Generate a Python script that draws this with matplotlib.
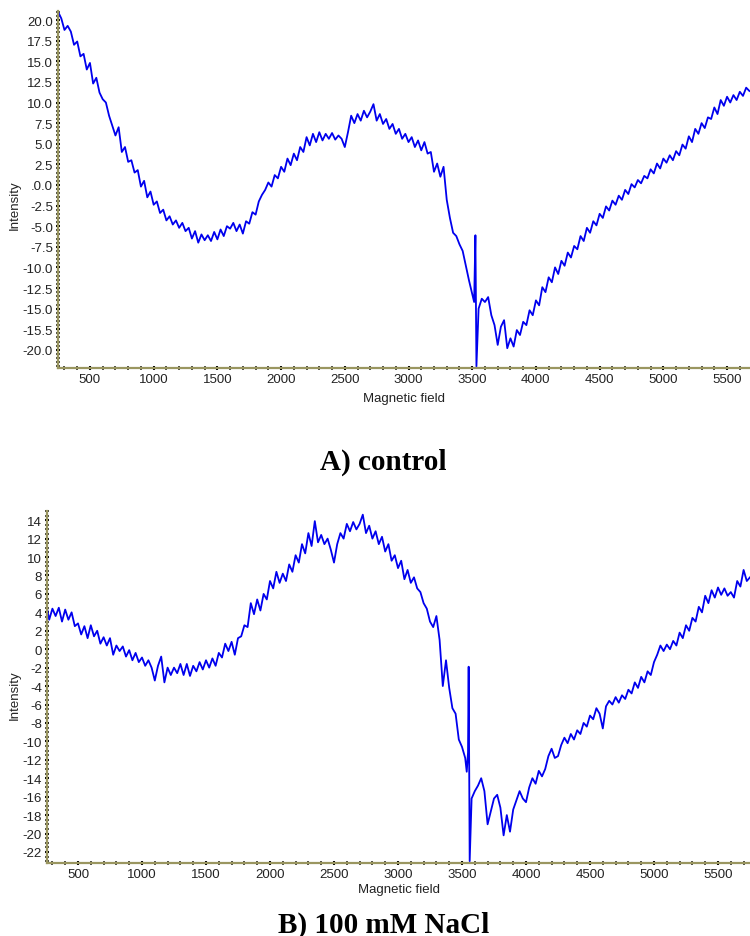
import numpy as np
import matplotlib
matplotlib.use("Agg")
import matplotlib.pyplot as plt
from matplotlib.ticker import MultipleLocator

# ---- A) control: intensity, 25 G steps ----
ctrl_start = 250
ctrl_before = [
    21.0, 20.2, 18.8, 19.3, 18.6, 17.0, 17.4, 15.6, 15.9, 14.0,
    14.8, 12.3, 13.0, 11.2, 10.4, 10.0, 8.4, 7.2, 6.0, 7.0,
    4.0, 4.6, 2.8, 3.0, 1.5, 1.8, -0.2, 0.5, -1.5, -0.8,
    -2.4, -2.0, -3.4, -3.0, -4.3, -3.8, -4.8, -4.3, -5.2, -4.6,
    -5.6, -5.2, -6.5, -5.6, -7.0, -6.0, -6.7, -6.1, -6.8, -5.7,
    -6.6, -5.4, -6.2, -5.0, -5.3, -4.6, -5.6, -4.8, -5.9, -4.4,
    -4.7, -3.3, -3.6, -2.0, -1.2, -0.6, 0.3, -0.2, 1.2, 0.8,
    2.2, 1.6, 3.2, 2.4, 3.8, 3.0, 4.6, 4.0, 5.8, 4.8,
    6.2, 5.2, 6.4, 5.4, 6.2, 5.6, 6.3, 5.5, 6.0, 5.6,
    4.6, 6.4, 8.4, 7.5, 8.6, 7.8, 9.0, 8.2, 8.9, 9.8,
    7.8, 8.6, 7.4, 8.0, 6.8, 7.4, 6.2, 6.8, 5.6, 6.2,
    5.2, 5.8, 4.6, 5.4, 4.2, 5.2, 3.8, 4.0, 1.6, 2.6,
    1.0, 2.2, -1.8, -4.0, -5.8, -6.2, -7.2, -8.0, -9.8, -11.6,
    -13.2,
]
ctrl_spike_field = [3515, 3525, 3533]
ctrl_spike = [-14.2, -6.1, -22.0]
ctrl_after_start = 3550
ctrl_after = [
    -15.0, -13.8, -14.2, -13.6, -15.8, -17.0, -19.4, -17.2, -16.4, -19.8,
    -18.6, -19.6, -17.6, -18.2, -16.6, -17.0, -15.2, -15.8, -14.0, -14.6,
    -12.4, -13.0, -11.2, -11.8, -10.0, -10.8, -9.2, -9.8, -8.2, -8.8,
    -7.4, -7.8, -6.2, -6.8, -5.2, -5.8, -4.4, -4.9, -3.5, -4.0,
    -2.6, -3.1, -1.9, -2.4, -1.3, -1.8, -0.6, -1.1, 0.1, -0.3,
    0.6, 0.2, 1.1, 0.8, 1.9, 1.4, 2.6, 2.0, 3.2, 2.7,
    3.6, 3.0, 4.1, 3.6, 4.9, 4.4, 5.9, 5.2, 6.8, 6.2,
    7.5, 6.9, 8.2, 8.0, 9.4, 8.6, 10.3, 9.6, 10.7, 10.0,
    10.9, 10.3, 11.3, 10.8, 11.8, 11.4,
]

# ---- B) 100 mM NaCl ----
nacl_start = 250
nacl_before = [
    5.0, 3.2, 4.4, 3.6, 4.5, 3.0, 4.3, 3.2, 4.0, 2.5,
    2.8, 1.6, 2.5, 1.2, 2.6, 1.4, 2.0, 0.6, 1.3, 0.4,
    1.2, -0.6, 0.4, -0.2, 0.3, -0.8, -0.1, -1.2, -0.4, -1.4,
    -0.9, -1.8, -1.2, -2.0, -3.4, -1.8, -0.8, -3.6, -2.0, -2.8,
    -2.0, -2.6, -1.6, -2.8, -1.6, -2.9, -1.8, -2.4, -1.4, -2.2,
    -1.2, -2.0, -1.0, -1.8, -0.4, -0.9, 0.6, -0.2, 0.8, -0.6,
    1.2, 1.4, 2.6, 2.4, 5.0, 3.8, 5.4, 4.2, 6.0, 5.4,
    7.4, 6.6, 8.4, 7.2, 8.2, 7.4, 9.2, 8.4, 10.2, 9.4,
    11.4, 10.4, 12.6, 11.2, 13.9, 11.6, 12.4, 11.4, 12.0, 10.8,
    9.4, 11.4, 12.6, 12.0, 13.6, 12.8, 13.8, 13.0, 13.6, 14.6,
    12.6, 13.4, 12.0, 12.8, 11.4, 12.2, 10.6, 11.4, 9.6, 10.2,
    8.8, 9.6, 7.6, 8.6, 7.2, 7.8, 6.6, 6.2, 5.0, 4.4,
    3.0, 2.4, 3.6, 1.0, -4.0, -1.2, -4.2, -6.4, -7.0, -9.8,
    -10.6, -11.8,
]
nacl_spike_field = [3537, 3547, 3552, 3560]
nacl_spike = [-13.3, -11.2, -1.9, -23.0]
nacl_after_start = 3575
nacl_after = [
    -16.2, -15.4, -14.8, -14.0, -15.4, -19.0, -17.6, -16.2, -15.8, -17.2,
    -20.2, -18.0, -19.8, -17.4, -16.4, -15.4, -16.2, -16.6, -15.0, -14.0,
    -14.6, -13.2, -13.8, -13.0, -11.6, -10.8, -11.8, -11.6, -10.4, -9.6,
    -10.2, -9.2, -9.8, -8.8, -9.2, -8.0, -8.4, -7.2, -7.6, -6.4,
    -7.0, -8.6, -6.2, -5.6, -6.0, -5.2, -5.8, -5.0, -5.4, -4.4,
    -4.8, -3.6, -4.2, -3.0, -3.6, -2.4, -2.8, -1.4, -0.6, 0.4,
    -0.2, 0.5, 0.0, 0.9, 0.4, 1.8, 1.2, 2.6, 2.0, 3.4,
    3.0, 4.6, 4.0, 5.8, 5.0, 6.4, 5.6, 6.7, 5.9, 6.6,
    5.8, 6.2, 5.6, 7.4, 6.8, 8.6, 7.4, 7.8,
]

ctrl_yticks = [20, 17.5, 15, 12.5, 10, 7.5, 5, 2.5, 0, -2.5, -5, -7.5,
               -10, -12.5, -15, -17.5, -20]
ctrl_ylabels = ['20.0', '17.5', '15.0', '12.5', '10.0', '7.5', '5.0', '2.5',
                '.0.0', '-2.5', '-5.0', '-7.5', '-10.0', '-12.5', '-15.0',
                '-15.5', '-20.0']
nacl_yticks = list(range(14, -23, -2))
field_ticks = list(range(500, 5501, 500))


def build(start, before, spike_x, spike_y, after_start, after):
    x1 = start + 25 * np.arange(len(before))
    x3 = after_start + 25 * np.arange(len(after))
    x = np.concatenate([x1, spike_x, x3])
    y = np.concatenate([before, spike_y, after])
    return x, y


plt.rcParams['font.family'] = ['Liberation Sans', 'DejaVu Sans']

fig = plt.figure(figsize=(7.5, 9.37), dpi=100)
ax1 = fig.add_axes([0.0773, 0.6062, 0.9227, 0.381])
ax2 = fig.add_axes([0.0627, 0.0779, 0.9373, 0.3757])

spine_col = '#9a9660'


def style(ax, xlim, ylim, yticks, ylabels, ylab_y, ylab_x, xpad):
    ax.set_xlim(*xlim)
    ax.set_ylim(*ylim)
    ax.set_xticks(field_ticks)
    ax.set_yticks(yticks)
    ax.set_yticklabels(ylabels)
    ax.xaxis.set_minor_locator(MultipleLocator(100))
    ax.yaxis.set_minor_locator(MultipleLocator(0.5))
    for s in ['top', 'right']:
        ax.spines[s].set_visible(False)
    for s in ['left', 'bottom']:
        ax.spines[s].set_color(spine_col)
        ax.spines[s].set_linewidth(1.6)
    ax.tick_params(which='major', direction='inout', length=3.5, width=1.5,
                   color='black', labelsize=9.5, labelcolor='#222222', pad=2)
    ax.tick_params(which='minor', direction='inout', length=2.6, width=1.2,
                   color='#2e2e22')
    ax.set_xlabel('Magnetic field', fontsize=9.5, labelpad=xpad, color='#222222')
    ax.set_ylabel('Intensity', fontsize=9.5, color='#222222')
    ax.yaxis.set_label_coords(ylab_x, ylab_y)


x, y = build(ctrl_start, ctrl_before, ctrl_spike_field, ctrl_spike,
             ctrl_after_start, ctrl_after)
ax1.plot(x, y, color='#0000ee', linewidth=1.3)
style(ax1, (249, 5680), (-22.2, 21.1), ctrl_yticks, ctrl_ylabels, 0.46, -0.054, 5)

x, y = build(nacl_start, nacl_before, nacl_spike_field, nacl_spike,
             nacl_after_start, nacl_after)
ax2.plot(x, y, color='#0000ee', linewidth=1.3)
style(ax2, (258, 5750), (-23.2, 15.0), nacl_yticks,
      [str(v) for v in nacl_yticks], 0.48, -0.038, 2)

fig.text(0.511, 0.507, 'A) control', ha='center', va='center', fontsize=21,
         fontweight='bold', family='Liberation Serif')
fig.text(0.511, 0.0128, 'B) 100 mM NaCl', ha='center', va='center',
         fontsize=21, fontweight='bold', family='Liberation Serif')

fig.savefig('out.png', dpi=100)
